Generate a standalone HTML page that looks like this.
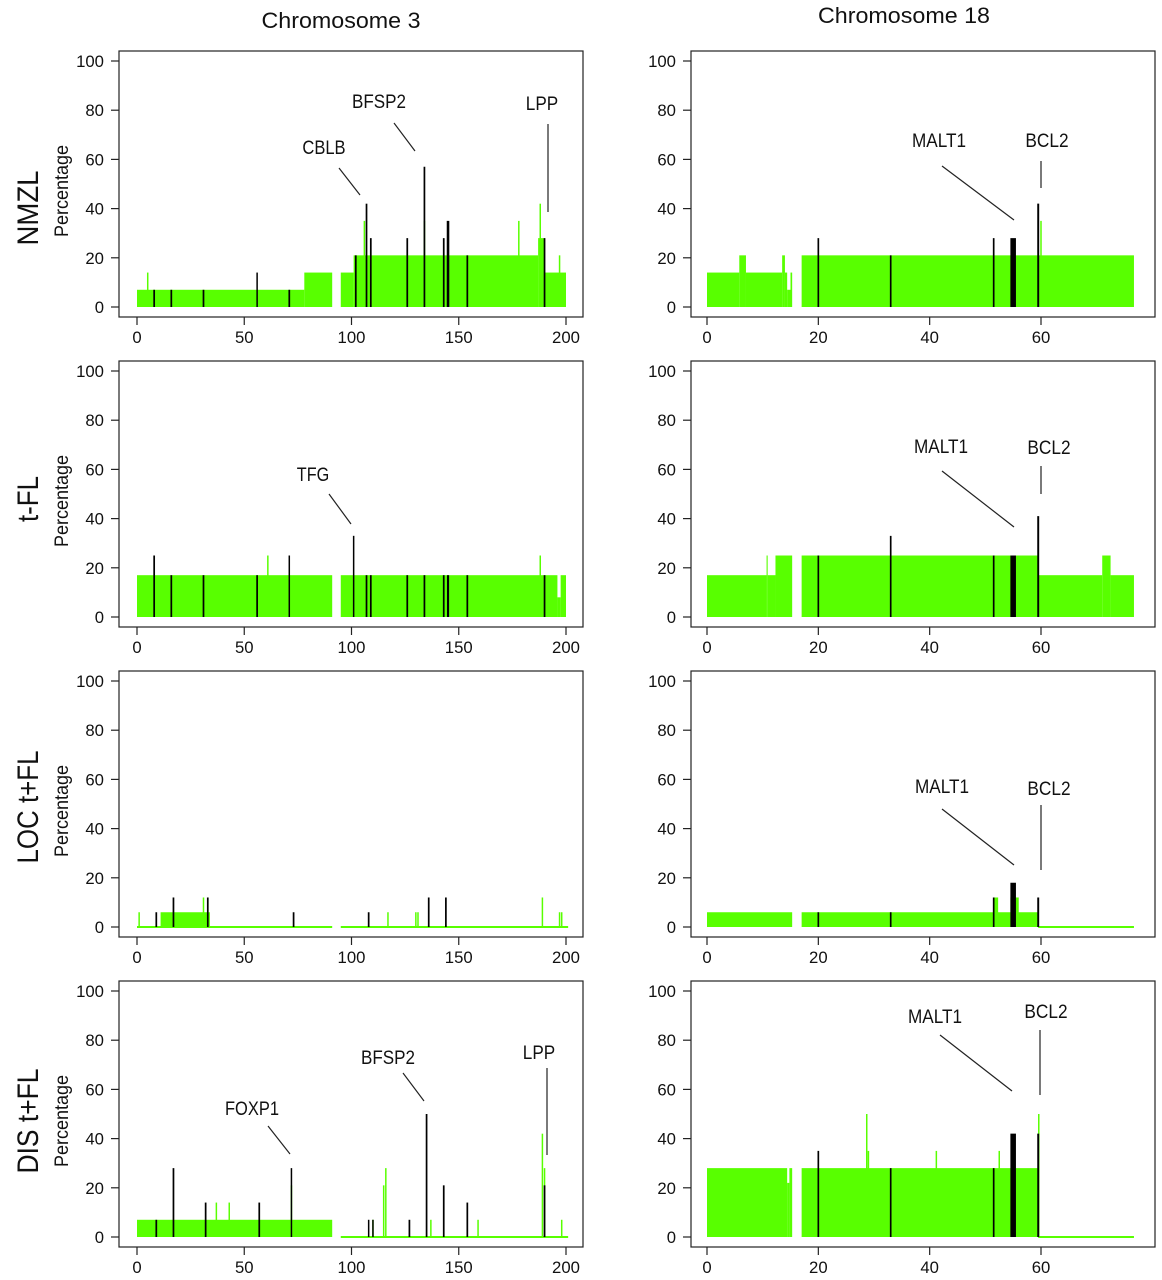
<!DOCTYPE html>
<html><head><meta charset="utf-8"><title>Chromosome 3 / 18 profiles</title>
<style>html,body{margin:0;padding:0;background:#fff}svg{display:block}text{font-family:"Liberation Sans",sans-serif;fill:#111}</style>
</head><body>
<svg id="fig" width="1162" height="1280" viewBox="0 0 1162 1280" xmlns="http://www.w3.org/2000/svg"></svg>
<script>
// ---------- data (segments: [start,end,pct], spikes: [pos,pct], bars: [pos,pct,widthMb]) ----------
const rowLabels = ["NMZL","t-FL","LOC t+FL","DIS t+FL"];
const colTitles = ["Chromosome 3","Chromosome 18"];
const yTicks = [0,20,40,60,80,100];
const xTicksChr3 = [0,50,100,150,200];
const xTicksChr18 = [0,20,40,60];

const nmzl3Segments = [[0,78,7],[78,91,14],[95,101,14],[101,187,21],[187,190,28],[190,200,14]];
const nmzl3Spikes = [[5,14],[106,35],[134,35],[178,35],[188,42],[197,21]];
const nmzl3Bars = [[8,7,0.8],[16,7,0.8],[31,7,0.8],[56,14,0.6],[71,7,0.8],[102,21,0.8],[107,42,0.8],[109,28,0.8],[126,28,0.8],[134,57,0.8],[143,28,0.8],[145,35,1.2],[154,21,0.8],[190,28,0.8]];

const tfl3Segments = [[0,91,17],[95,196,17],[196,197.5,8],[197.5,200,17]];
const tfl3Spikes = [[61,25],[188,25]];
const tfl3Bars = [[8,25,0.8],[16,17,0.8],[31,17,0.8],[56,17,0.8],[71,25,0.6],[101,33,0.6],[107,17,0.8],[109,17,0.8],[126,17,0.8],[134,17,0.8],[143,17,0.8],[145,17,1.0],[154,17,0.8],[190,17,0.8]];

const loc3Segments = [[0,91,0],[95,201,0],[11,34,6]];
const loc3Spikes = [[1,6],[31,12],[117,6],[130,6],[131,6],[189,12],[197,6],[198,6]];
const loc3Bars = [[9,6,0.8],[17,12,0.8],[33,12,0.8],[73,6,0.8],[108,6,0.8],[136,12,0.8],[144,12,0.8]];

const dis3Segments = [[0,91,7],[95,201,0]];
const dis3Spikes = [[37,14],[43,14],[72,21],[115,21],[116,28],[110,7],[137,7],[159,7],[189,42],[190,28],[198,7]];
const dis3Bars = [[9,7,0.8],[17,28,0.8],[32,14,0.8],[57,14,0.8],[72,28,0.6],[108,7,0.7],[110,7,0.7],[127,7,0.8],[135,50,0.8],[143,21,0.8],[154,14,0.8],[190,21,0.8]];

const nmzl18Segments = [[0,5.8,14],[5.8,7,21],[7,13.5,14],[13.5,14,21],[14,14.4,14],[14.4,15,7],[15,15.3,14],[17,76.7,21]];
const nmzl18Spikes = [[60,35]];
const nmzl18Bars = [[20,28,0.3],[33,21,0.3],[51.5,28,0.3],[55,28,1.0],[59.5,42,0.35]];

const tfl18Segments = [[0,10.7,17],[10.7,10.9,25],[10.9,12.3,17],[12.3,15.3,25],[17,59.5,25],[59.5,71,17],[71,72.5,25],[72.5,76.7,17]];
const tfl18Spikes = [];
const tfl18Bars = [[20,25,0.3],[33,33,0.3],[51.5,25,0.3],[55,25,1.0],[59.5,41,0.35]];

const loc18Segments = [[0,15.3,6],[17,59.5,6],[51.5,52.3,12],[54.5,56,12],[59.5,76.7,0]];
const loc18Spikes = [];
const loc18Bars = [[20,6,0.3],[33,6,0.3],[51.5,12,0.3],[55,18,1.0],[59.5,12,0.35]];

const dis18Segments = [[0,14.4,28],[14.4,14.8,22],[14.8,15.3,28],[17,59.5,28],[59.5,76.7,0]];
const dis18Spikes = [[28.7,50],[29,35],[41.2,35],[52.5,35],[59.6,50]];
const dis18Bars = [[20,35,0.3],[33,28,0.3],[51.5,28,0.3],[55,42,1.0],[59.5,42,0.35]];

// ---------- layout ----------
const NS = "http://www.w3.org/2000/svg";
const svg = document.getElementById("fig");
const GREEN = "#58ff00";
function mk(tag, attrs, parent){
  const e = document.createElementNS(NS, tag);
  for (const k in attrs) e.setAttribute(k, attrs[k]);
  (parent||svg).appendChild(e);
  return e;
}
const rowTops = [51,361,671,981];
const rowH = 266;
const colDefs = [
  {left:119, right:583, x0off:18, unit:429/200, ticks:xTicksChr3, titleX:341, titleY:28, titleLen:159},
  {left:691, right:1155, x0off:16, unit:334/60, ticks:xTicksChr18, titleX:904, titleY:23, titleLen:172}
];
const panels = [
  [0,0,nmzl3Segments,nmzl3Spikes,nmzl3Bars,"nmzl-chr3"],
  [0,1,nmzl18Segments,nmzl18Spikes,nmzl18Bars,"nmzl-chr18"],
  [1,0,tfl3Segments,tfl3Spikes,tfl3Bars,"tfl-chr3"],
  [1,1,tfl18Segments,tfl18Spikes,tfl18Bars,"tfl-chr18"],
  [2,0,loc3Segments,loc3Spikes,loc3Bars,"loc-chr3"],
  [2,1,loc18Segments,loc18Spikes,loc18Bars,"loc-chr18"],
  [3,0,dis3Segments,dis3Spikes,dis3Bars,"dis-chr3"],
  [3,1,dis18Segments,dis18Spikes,dis18Bars,"dis-chr18"]
];
// annotations: [row,col,label,textX,textY,x1,y1,x2,y2]
const annotations = [
  [0,0,"CBLB",324,154,339,168,360,195],
  [0,0,"BFSP2",379,108,394,123,415,151],
  [0,0,"LPP",542,110,548,124,548,212],
  [0,1,"MALT1",939,147,942,166,1014,220],
  [0,1,"BCL2",1047,147,1041,161,1041,188],
  [1,0,"TFG",313,481,329,494,351,524],
  [1,1,"MALT1",941,453,942,471,1014,527],
  [1,1,"BCL2",1049,454,1041,466,1041,494],
  [2,1,"MALT1",942,793,942,809,1014,865],
  [2,1,"BCL2",1049,795,1041,805,1041,870],
  [3,0,"FOXP1",252,1115,268,1126,290,1154],
  [3,0,"BFSP2",388,1064,403,1073,424,1101],
  [3,0,"LPP",539,1059,547,1068,547,1155],
  [3,1,"MALT1",935,1023,940,1035,1012,1091],
  [3,1,"BCL2",1046,1018,1040,1030,1040,1095]
];

// column titles
colDefs.forEach((c,i)=>{
  const t = mk("text",{x:c.titleX,y:c.titleY,"text-anchor":"middle","font-size":22,textLength:c.titleLen,lengthAdjust:"spacingAndGlyphs"});
  t.textContent = colTitles[i];
  
  
});
// row labels and y-axis titles
const rowLabelLens = [75,46,113,105];
const rowLabelOffsets = [30,11,9,13];
rowLabels.forEach((lab,r)=>{
  const cy = rowTops[r] + rowH/2 + rowLabelOffsets[r] - 6;
  const t = mk("text",{x:0,y:0,"text-anchor":"middle","font-size":30,textLength:rowLabelLens[r],lengthAdjust:"spacingAndGlyphs",transform:`translate(38,${cy}) rotate(-90)`});
  t.textContent = lab;
  
  
  const p = mk("text",{x:0,y:0,"text-anchor":"middle","font-size":19,textLength:92,lengthAdjust:"spacingAndGlyphs",transform:`translate(68,${rowTops[r]+rowH/2+7}) rotate(-90)`});
  p.textContent = "Percentage";
  
  
});

panels.forEach(([r,c,segs,spikes,bars,name])=>{
  const col = colDefs[c];
  const top = rowTops[r], bottom = top + rowH;
  const g = mk("g",{});
  
  
  const X = v => col.left + col.x0off + v*col.unit;
  const Y = v => (bottom-10) - v*(rowH-20)/100;
  segs.forEach(([a,b,v])=>{
    if (v <= 0){
      const l = mk("line",{x1:X(a),x2:X(b),y1:Y(0),y2:Y(0),stroke:GREEN,"stroke-width":2},g);
      
      
    } else {
      const rc = mk("rect",{x:X(a),y:Y(v),width:Math.max(1,X(b)-X(a)),height:Y(0)-Y(v),fill:GREEN},g);
      
      
    }
  });
  spikes.forEach(([x,v])=>{
    const l = mk("line",{x1:X(x),x2:X(x),y1:Y(0),y2:Y(v),stroke:GREEN,"stroke-width":1.5},g);
    
    
  });
  bars.forEach(([x,v,w])=>{
    const l = mk("line",{x1:X(x),x2:X(x),y1:Y(0),y2:Y(v),stroke:"#000","stroke-width":Math.max(1.5,w*col.unit)},g);
    
    
  });
  const fr = mk("rect",{x:col.left,y:top,width:col.right-col.left,height:rowH,fill:"none",stroke:"#222","stroke-width":1.2},g);
  
  
  yTicks.forEach(v=>{
    const tl = mk("line",{x1:col.left-8,x2:col.left,y1:Y(v),y2:Y(v),stroke:"#222","stroke-width":1.2},g);
    
    
    const s = String(v);
    const t = mk("text",{x:col.left-15,y:Y(v)+6,"text-anchor":"end","font-size":17,textLength:s.length*9.3,lengthAdjust:"spacingAndGlyphs"},g);
    t.textContent = s;
    
    
  });
  col.ticks.forEach(v=>{
    const tl = mk("line",{x1:X(v),x2:X(v),y1:bottom,y2:bottom+8,stroke:"#222","stroke-width":1.2},g);
    
    
    const s = String(v);
    const t = mk("text",{x:X(v),y:bottom+26,"text-anchor":"middle","font-size":17,textLength:s.length*9.3,lengthAdjust:"spacingAndGlyphs"},g);
    t.textContent = s;
    
    
  });
});

annotations.forEach(([r,c,lab,tx,ty,x1,y1,x2,y2])=>{
  const t = mk("text",{x:tx,y:ty,"text-anchor":"middle","font-size":19,textLength:lab.length*10.8,lengthAdjust:"spacingAndGlyphs"});
  t.textContent = lab;
  
  
  const l = mk("line",{x1:x1,y1:y1,x2:x2,y2:y2,stroke:"#222","stroke-width":1.2});
  
  
});
</script>
</body></html>
